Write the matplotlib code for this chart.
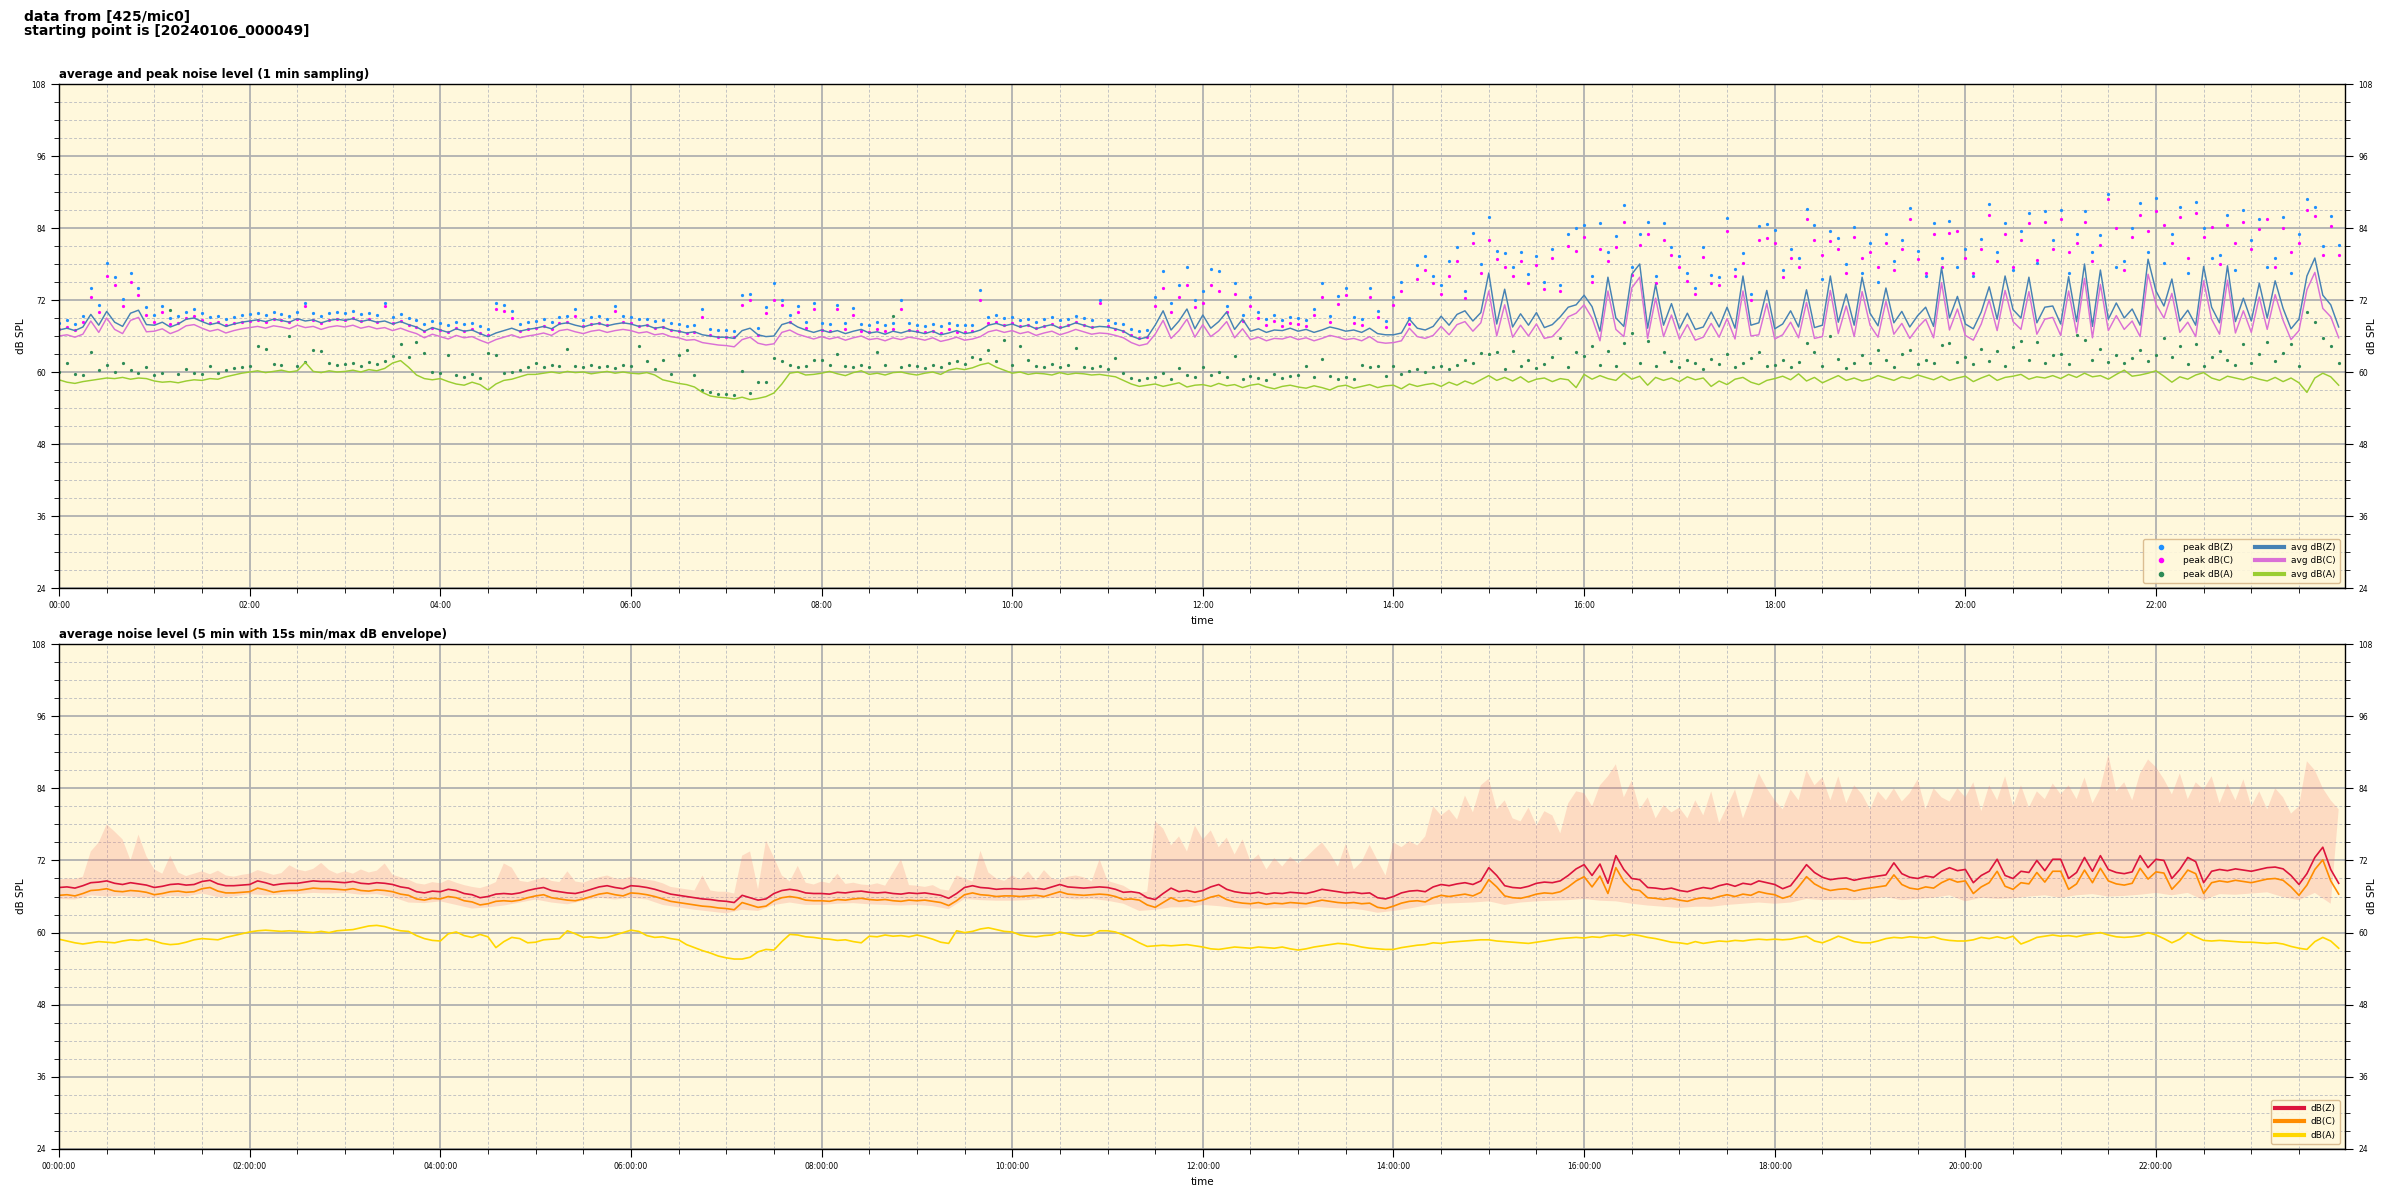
import numpy as np
import matplotlib
matplotlib.use("Agg")
import matplotlib.pyplot as plt
from matplotlib.ticker import MultipleLocator, FuncFormatter

# ---------------- data (5-minute samples) ----------------
avg_z = [
    67.0, 67.3, 66.9, 67.5, 69.6, 67.8, 70.1, 68.3, 67.6, 69.8, 70.3, 67.9,
    67.8, 68.3, 67.5, 68.0, 68.8, 69.0, 68.4, 67.9, 68.2, 67.6, 68.0, 68.3,
    68.5, 68.7, 68.4, 68.8, 68.6, 68.3, 68.9, 68.5, 68.7, 68.2, 68.6, 68.8,
    68.6, 68.9, 68.4, 68.7, 68.3, 68.5, 68.0, 68.4, 67.9, 67.5, 66.8, 67.4,
    67.0, 66.6, 67.2, 66.8, 67.0, 66.4, 65.9, 66.5, 66.9, 67.3, 66.8, 67.1,
    67.3, 67.6, 67.2, 68.0, 68.2, 67.8, 67.5, 67.9, 68.1, 67.7, 68.0, 68.2,
    68.0, 67.6, 67.8, 67.3, 67.5, 67.0, 66.8, 66.5, 66.7, 66.2, 66.0, 65.8,
    65.8, 65.6, 66.9, 67.3, 66.2, 65.9, 66.0, 67.9, 68.3, 67.5, 67.0, 66.6,
    67.0, 66.6, 66.9, 66.4, 66.8, 67.1, 66.5, 66.7, 66.3, 66.8, 66.5, 66.9,
    66.7, 66.4, 66.8, 66.2, 66.5, 66.9, 66.4, 66.6, 67.0, 67.8, 68.1, 67.7,
    68.0, 67.5, 67.8, 67.2, 67.6, 67.9, 67.3, 67.7, 68.2, 67.8, 67.4, 67.6,
    67.5, 67.2, 66.8, 66.0, 65.5, 65.8, 67.8, 70.2, 67.0, 68.5, 70.5, 67.2,
    69.5, 67.3, 68.4, 70.0, 67.1, 68.8, 66.8, 67.2, 66.6, 67.0, 66.9, 67.3,
    66.8, 67.1, 66.6, 67.0, 67.5, 67.2, 66.8, 67.0, 66.6, 67.3, 66.4, 66.2,
    66.2, 66.5, 68.8, 67.3, 67.0, 67.6, 69.3, 67.8, 69.6, 70.2, 68.5, 69.9,
    76.5, 68.0, 73.8, 67.5, 69.7, 67.8, 69.9, 67.4, 67.9, 69.2, 70.8, 71.2,
    72.8, 70.9, 66.8, 75.8, 69.0, 67.6, 76.3, 78.0, 67.3, 74.6, 67.8, 71.4,
    67.2, 69.8, 67.1, 67.5, 70.0, 67.5, 70.8, 67.3, 76.0, 67.8, 68.2, 73.6,
    67.2, 68.0, 70.2, 67.5, 73.7, 67.4, 67.8, 76.0, 68.3, 73.0, 67.8, 75.8,
    69.8, 67.7, 74.0, 68.2, 70.1, 67.5, 69.4, 70.8, 67.6, 77.4, 69.0, 72.6,
    68.0, 67.2, 70.0, 74.2, 68.8, 76.0, 70.4, 69.0, 75.8, 68.2, 70.8, 71.0,
    68.0, 75.9, 68.4, 78.0, 67.6, 77.0, 68.8, 71.5, 69.0, 70.5, 67.8, 78.8,
    73.5, 71.0, 75.5, 68.5, 70.3, 67.8, 77.6, 70.8, 68.2, 77.7, 68.4, 72.3,
    68.5, 74.8, 69.0, 75.2, 70.6, 67.2, 68.8, 76.0, 79.0, 72.8, 71.2, 67.5,
]
avg_c = [
    66.0, 66.2, 65.8, 66.3, 68.5, 66.6, 69.0, 67.1, 66.4, 68.6, 69.1, 66.7,
    66.8, 67.2, 66.4, 66.9, 67.7, 67.9, 67.3, 66.8, 67.1, 66.5, 66.9, 67.2,
    67.4, 67.6, 67.3, 67.7, 67.5, 67.2, 67.8, 67.4, 67.6, 67.1, 67.5, 67.7,
    67.5, 67.8, 67.3, 67.6, 67.2, 67.4, 66.9, 67.3, 66.8, 66.4, 65.7, 66.3,
    65.9, 65.5, 66.1, 65.7, 65.9, 65.3, 64.8, 65.4, 65.8, 66.2, 65.7, 66.0,
    66.2, 66.5, 66.1, 66.9, 67.1, 66.7, 66.4, 66.8, 67.0, 66.6, 66.9, 67.1,
    66.9, 66.5, 66.7, 66.2, 66.4, 65.9, 65.7, 65.3, 65.4, 64.9, 64.7, 64.5,
    64.4, 64.2, 65.4, 65.8, 64.8, 64.5, 64.7, 66.6, 67.0, 66.3, 65.9, 65.5,
    65.9, 65.5, 65.8, 65.3, 65.7, 66.0, 65.4, 65.6, 65.2, 65.7, 65.4, 65.8,
    65.6, 65.3, 65.7, 65.1, 65.4, 65.8, 65.3, 65.5, 65.9, 66.7, 67.0, 66.6,
    66.9, 66.4, 66.7, 66.1, 66.5, 66.8, 66.2, 66.6, 67.1, 66.7, 66.3, 66.5,
    66.4, 66.1, 65.7, 64.9, 64.4, 64.7, 66.3, 68.6, 65.6, 66.9, 68.8, 65.8,
    67.9, 65.9, 66.9, 68.4, 65.7, 67.2, 65.4, 65.8, 65.2, 65.6, 65.5, 65.9,
    65.4, 65.7, 65.2, 65.6, 66.1, 65.8, 65.4, 65.6, 65.2, 65.9, 65.0, 64.8,
    64.9, 65.2, 67.3, 65.9, 65.6, 66.1, 67.6, 66.2, 67.9, 68.4, 66.8, 68.2,
    73.5, 66.0, 71.2, 65.8, 67.8, 66.0, 68.0, 65.6, 65.9, 67.3, 69.2, 69.8,
    71.2, 69.0, 65.2, 73.5, 67.1, 65.9, 74.0, 75.8, 65.6, 72.3, 65.9, 69.5,
    65.5, 67.9, 65.3, 65.8, 68.1, 65.8, 68.9, 65.5, 73.5, 66.0, 66.2, 71.4,
    65.5, 66.2, 68.3, 65.7, 71.6, 65.6, 65.9, 73.6, 66.4, 71.0, 65.9, 73.4,
    67.8, 65.8, 71.8, 66.3, 68.1, 65.6, 67.4, 68.8, 65.7, 74.9, 67.0, 70.5,
    66.1, 65.3, 68.0, 72.0, 66.9, 73.6, 68.4, 67.1, 73.4, 66.3, 68.8, 69.1,
    66.1, 73.5, 66.5, 75.6, 65.7, 74.6, 66.9, 69.4, 67.1, 68.5, 65.9, 76.3,
    71.3, 69.0, 73.1, 66.6, 68.3, 65.9, 75.2, 68.8, 66.3, 75.3, 66.5, 70.2,
    66.6, 72.5, 67.1, 72.9, 68.6, 65.4, 66.9, 73.7, 76.6, 70.6, 69.2, 65.7,
]
avg_a = [
    58.7, 58.3, 58.1, 58.4, 58.6, 58.8, 59.0, 58.9, 59.1, 58.8, 59.0, 58.9,
    58.5, 58.3, 58.4, 58.2, 58.5, 58.7, 58.6, 58.9, 58.8, 59.2, 59.5, 59.8,
    60.0, 60.2, 59.9, 60.1, 60.3, 60.0, 60.2, 61.6, 60.1, 59.9, 60.2, 60.0,
    60.1, 60.3, 60.0, 60.4, 60.2, 60.6, 61.5, 61.9, 60.8, 59.5, 58.9, 58.7,
    58.9, 58.4, 58.0, 57.8, 58.3, 57.9, 57.0, 58.0, 58.6, 58.8, 59.2, 59.6,
    59.6, 59.8, 60.0, 59.8, 60.1, 59.9, 60.0, 59.7, 59.9, 60.1, 59.8, 60.0,
    59.8, 59.7, 59.9, 59.5, 58.7, 58.4, 58.1, 57.9, 57.5, 56.6, 56.0, 55.8,
    55.7, 55.5, 55.8, 55.4, 55.6, 55.9, 56.5, 58.0, 59.8, 60.0, 59.5, 59.6,
    59.8, 60.1, 59.7, 59.4, 59.9, 60.2, 59.6, 59.8, 59.5, 59.9, 60.0, 59.7,
    59.5, 59.8, 60.0, 59.6, 60.3, 60.6, 60.4, 60.7, 61.2, 61.5, 60.8, 60.3,
    59.8, 60.0, 59.6, 59.8, 59.7, 59.5, 59.9, 59.6, 59.8, 59.7, 59.5, 59.6,
    59.4, 59.2, 58.6, 58.0, 57.6, 57.8, 58.0, 57.6, 57.9, 58.2, 57.5, 57.8,
    57.9, 57.6, 58.1, 57.7, 57.9, 57.4, 57.8, 58.0, 57.5, 57.2, 57.6, 57.8,
    57.5, 57.3, 57.7, 57.4, 57.0, 57.6, 57.8, 57.3, 57.6, 57.9, 57.4, 57.7,
    57.8, 57.2, 58.0, 57.6, 57.9, 58.1, 57.6, 58.3, 57.8, 58.5, 58.0, 58.7,
    59.4, 58.6, 59.1, 58.5, 59.2, 58.3, 58.8, 59.0, 58.4, 58.9, 58.7, 57.4,
    59.6, 58.8, 59.4, 58.9, 58.6, 59.8, 58.8, 59.3, 57.8, 59.1, 58.6, 59.0,
    58.4, 59.2, 58.7, 59.0, 57.6, 58.5, 57.9, 58.8, 59.1, 58.3, 57.9, 58.6,
    58.9, 59.3, 58.7, 59.7, 58.5, 59.1, 58.2, 58.8, 59.4, 58.6, 59.0, 58.5,
    58.8, 59.4, 59.0, 58.6, 59.2, 58.9, 59.5, 59.1, 58.7, 59.3, 58.6, 59.0,
    59.3, 58.4, 59.0, 59.5, 58.6, 59.1, 59.3, 59.6, 58.8, 59.2, 59.0, 59.4,
    58.9, 59.6, 59.1, 59.8, 59.2, 59.4, 58.8, 59.6, 60.3, 59.3, 59.5, 59.8,
    60.2, 59.3, 58.3, 59.2, 58.8, 59.5, 59.9, 59.0, 58.6, 59.3, 59.0, 58.7,
    59.2, 58.8, 58.5, 59.1, 58.4, 59.0, 58.2, 56.6, 59.0, 59.8, 59.2, 57.8,
]
peak_z = [
    68.2, 68.6, 68.0, 69.4, 74.0, 71.2, 78.2, 75.8, 72.1, 76.5, 74.0, 70.8,
    69.5, 71.0, 69.0, 69.3, 70.0, 70.5, 69.8, 69.2, 69.4, 68.9, 69.2, 69.5,
    69.6, 69.8, 69.5, 70.0, 69.7, 69.4, 70.0, 71.5, 69.8, 69.3, 69.8, 70.0,
    69.8, 70.1, 69.6, 69.9, 69.5, 71.5, 69.2, 69.6, 69.0, 68.6, 68.0, 68.5,
    68.1, 67.8, 68.4, 68.0, 68.2, 67.6, 67.2, 71.5, 71.2, 70.2, 68.0, 68.3,
    68.5, 68.8, 68.3, 69.2, 69.4, 70.5, 68.7, 69.1, 69.3, 68.9, 71.0, 69.4,
    69.2, 68.8, 68.9, 68.5, 68.6, 68.1, 68.0, 67.6, 67.8, 70.5, 67.2, 67.0,
    67.0, 66.9, 72.9, 73.0, 67.3, 70.8, 74.8, 72.0, 69.5, 71.0, 68.4, 71.5,
    68.1, 68.0, 71.2, 68.2, 70.6, 68.0, 67.8, 68.3, 67.9, 68.2, 72.0, 68.1,
    67.9, 67.7, 68.0, 67.6, 68.2, 67.8, 67.8, 67.9, 73.7, 69.2, 69.5, 69.0,
    69.2, 68.7, 68.9, 68.4, 68.8, 69.1, 68.6, 68.9, 69.4, 69.0, 68.6, 72.0,
    68.7, 68.2, 68.0, 67.2, 66.8, 67.0, 72.5, 76.8, 71.5, 74.5, 77.5, 72.0,
    73.5, 77.2, 76.8, 71.0, 74.8, 69.5, 72.5, 70.0, 68.8, 69.5, 68.7, 69.2,
    69.0, 68.6, 70.5, 74.8, 69.4, 72.7, 74.0, 69.1, 68.8, 74.0, 70.2, 68.5,
    72.5, 75.0, 69.0, 77.8, 79.3, 76.0, 74.5, 78.5, 80.8, 73.5, 83.2, 78.0,
    85.8, 80.2, 79.8, 77.5, 80.0, 76.3, 79.3, 75.0, 80.5, 74.5, 83.0, 84.0,
    84.5, 76.0, 84.8, 80.0, 82.6, 87.9, 77.5, 83.0, 85.0, 76.0, 84.8, 80.9,
    79.3, 76.5, 74.0, 80.9, 76.2, 75.8, 85.6, 77.2, 79.8, 73.0, 84.3, 84.6,
    83.6, 77.0, 80.5, 79.0, 87.2, 84.5, 75.5, 83.5, 82.3, 78.0, 84.2, 76.5,
    81.5, 75.0, 83.0, 78.5, 82.0, 87.3, 80.2, 76.0, 84.8, 79.0, 85.1, 77.5,
    80.5, 76.0, 82.2, 88.0, 80.0, 84.8, 77.0, 83.5, 86.5, 78.2, 86.8, 82.0,
    87.0, 76.5, 83.0, 86.8, 80.0, 82.8, 89.7, 77.5, 78.5, 84.0, 88.2, 80.0,
    89.0, 78.2, 83.0, 87.5, 76.5, 88.3, 84.0, 79.0, 79.5, 86.2, 77.0, 87.0,
    82.0, 85.5, 77.5, 79.0, 85.8, 76.5, 83.0, 88.9, 87.5, 81.0, 86.0, 81.2,
]
peak_c = [
    67.2, 67.5, 67.0, 68.3, 72.5, 70.0, 76.0, 74.5, 71.0, 75.0, 72.8, 69.5,
    68.4, 70.0, 68.0, 68.2, 69.0, 69.4, 68.7, 68.1, 68.3, 67.8, 68.1, 68.4,
    68.5, 68.7, 68.4, 68.9, 68.6, 68.3, 68.9, 71.0, 68.7, 68.2, 68.7, 68.9,
    68.7, 69.0, 68.5, 68.8, 68.4, 71.0, 68.1, 68.5, 67.9, 67.5, 66.9, 67.4,
    67.0, 66.7, 67.3, 66.9, 67.1, 66.5, 66.1, 70.5, 70.2, 69.0, 66.9, 67.2,
    67.4, 67.7, 67.2, 68.1, 68.3, 69.4, 67.6, 68.0, 68.2, 67.8, 70.2, 68.3,
    68.1, 67.7, 67.8, 67.4, 67.5, 67.0, 66.9, 66.5, 66.7, 69.2, 66.1, 65.9,
    65.9, 65.8, 71.2, 72.0, 66.2, 69.8, 72.0, 71.2, 68.4, 70.0, 67.3, 70.5,
    67.0, 66.9, 70.5, 67.1, 69.5, 66.9, 66.7, 67.2, 66.8, 67.1, 70.5, 67.0,
    66.8, 66.6, 66.9, 66.5, 67.1, 66.7, 66.7, 66.8, 72.0, 68.1, 68.4, 67.9,
    68.1, 67.6, 67.8, 67.3, 67.7, 68.0, 67.5, 67.8, 68.3, 67.9, 67.5, 71.5,
    67.6, 67.1, 66.9, 66.1, 65.7, 65.9, 71.0, 74.0, 70.0, 72.5, 74.5, 70.8,
    71.5, 74.5, 73.5, 70.0, 73.0, 68.5, 71.0, 69.0, 67.8, 68.5, 67.7, 68.2,
    68.0, 67.6, 69.5, 72.5, 68.4, 71.3, 72.8, 68.1, 67.8, 72.5, 69.2, 67.5,
    71.2, 73.5, 68.0, 75.5, 77.0, 74.8, 73.0, 76.0, 78.5, 72.3, 81.5, 76.5,
    82.0, 78.8, 77.5, 76.0, 78.5, 74.8, 77.8, 73.8, 79.0, 73.5, 81.0, 80.2,
    82.5, 75.0, 80.5, 78.5, 80.8, 85.0, 76.2, 81.2, 83.0, 74.8, 82.0, 79.5,
    77.5, 75.2, 73.0, 79.2, 74.8, 74.5, 83.5, 76.0, 78.2, 72.0, 82.0, 82.3,
    81.5, 75.8, 79.0, 77.5, 85.5, 82.0, 79.5, 81.8, 80.5, 76.5, 82.5, 79.0,
    80.0, 77.5, 81.5, 77.0, 80.5, 85.5, 78.8, 76.5, 83.0, 77.5, 83.2, 83.5,
    79.0, 76.5, 80.5, 86.2, 78.5, 83.0, 77.5, 82.0, 84.8, 78.7, 85.0, 80.5,
    85.5, 80.0, 81.5, 85.0, 78.5, 81.2, 88.8, 84.0, 77.0, 82.5, 86.2, 83.5,
    86.8, 84.5, 81.5, 85.8, 79.0, 86.5, 82.5, 84.2, 78.0, 84.5, 81.5, 85.0,
    80.5, 83.8, 85.5, 77.5, 84.0, 80.0, 81.5, 87.0, 86.0, 79.5, 84.3, 79.5,
]
peak_a = [
    60.0, 61.5, 59.6, 59.5, 63.3, 60.3, 61.2, 60.0, 61.5, 60.4, 59.9, 60.8,
    59.5, 59.9, 70.4, 59.6, 60.5, 59.8, 59.6, 61.0, 59.9, 60.3, 60.6, 60.9,
    61.0, 64.3, 63.8, 61.4, 61.2, 66.0, 61.0, 61.6, 63.7, 63.5, 61.5, 61.1,
    61.3, 61.5, 61.0, 61.6, 61.4, 61.8, 62.6, 64.6, 62.5, 65.0, 63.2, 60.0,
    59.8, 62.8, 59.5, 59.2, 59.6, 59.0, 63.2, 62.9, 59.8, 60.0, 60.3, 60.8,
    61.5, 60.8, 61.2, 61.0, 63.8, 61.0, 60.9, 61.2, 60.8, 61.0, 60.7, 61.1,
    61.0, 64.4, 61.8, 60.5, 62.0, 59.6, 62.9, 63.6, 59.5, 57.0, 56.6, 56.3,
    56.4, 56.2, 60.2, 56.5, 58.4, 58.3, 62.3, 61.8, 61.2, 60.8, 61.0, 62.0,
    62.0, 61.2, 63.0, 61.0, 60.8, 61.2, 60.9, 63.4, 61.1, 69.4, 60.8, 61.2,
    61.0, 60.6, 61.2, 60.8, 61.5, 61.8, 61.4, 62.5, 62.2, 63.7, 61.9, 65.3,
    61.2, 64.3, 62.0, 61.0, 60.8, 61.3, 60.9, 61.1, 64.0, 60.8, 60.7, 61.0,
    60.5, 62.3, 59.8, 59.0, 58.6, 59.0, 59.2, 59.8, 58.8, 60.6, 59.5, 59.2,
    60.8, 59.5, 60.0, 59.2, 62.6, 58.9, 59.3, 59.0, 58.7, 59.6, 59.0, 59.3,
    59.5, 61.0, 59.2, 62.2, 59.3, 58.8, 59.2, 58.9, 61.2, 60.8, 61.0, 59.4,
    61.0, 59.6, 60.2, 60.5, 60.0, 60.8, 61.0, 60.5, 61.2, 62.0, 61.5, 63.2,
    63.0, 63.4, 60.5, 63.5, 61.0, 62.0, 60.6, 61.3, 62.5, 65.7, 60.8, 63.3,
    62.6, 64.3, 61.2, 63.5, 61.0, 64.8, 66.5, 61.5, 65.1, 61.0, 63.4, 61.8,
    60.8, 62.0, 61.5, 60.5, 62.2, 61.3, 63.0, 60.9, 61.5, 62.4, 63.4, 61.0,
    61.2, 62.0, 60.8, 61.6, 64.8, 63.4, 61.0, 66.0, 62.2, 60.6, 61.5, 62.8,
    61.5, 63.6, 62.0, 60.8, 63.0, 63.7, 61.3, 62.0, 61.5, 64.5, 64.8, 61.6,
    62.5, 61.4, 63.8, 61.8, 63.5, 61.0, 64.2, 65.1, 62.0, 65.0, 61.5, 62.8,
    63.0, 61.4, 66.2, 65.3, 62.0, 63.9, 61.7, 62.8, 61.5, 62.4, 63.6, 61.8,
    62.8, 65.7, 62.5, 64.3, 61.3, 64.6, 61.0, 62.5, 63.5, 62.0, 61.2, 64.6,
    61.5, 63.0, 65.0, 61.8, 63.2, 64.6, 61.0, 70.0, 68.4, 65.7, 64.3, 61.5,
]

# bottom panel: 5-min averages and envelope
lvl_z = [
    67.5, 67.6, 67.4, 67.8, 68.3, 68.4, 68.6, 68.2, 68.0, 68.3, 68.1, 67.9,
    67.5, 67.7, 68.0, 68.1, 67.9, 68.0, 68.5, 68.7, 68.1, 67.8, 67.8, 67.9,
    68.0, 68.6, 68.3, 67.9, 68.1, 68.2, 68.2, 68.4, 68.6, 68.5, 68.5, 68.4,
    68.3, 68.5, 68.2, 68.1, 68.3, 68.2, 68.0, 67.6, 67.4, 66.8, 66.6, 66.9,
    66.8, 67.2, 67.0, 66.5, 66.3, 65.8, 66.0, 66.4, 66.5, 66.4, 66.6, 67.0,
    67.3, 67.5, 67.0, 66.8, 66.6, 66.5, 66.8, 67.2, 67.6, 67.8, 67.5, 67.3,
    67.8, 67.7, 67.5, 67.2, 66.8, 66.4, 66.2, 66.0, 65.8, 65.6, 65.5, 65.3,
    65.2, 65.0, 66.2, 65.8, 65.4, 65.6, 66.5, 67.0, 67.2, 67.0, 66.6, 66.5,
    66.5, 66.4, 66.7, 66.6, 66.8, 66.9, 66.7, 66.6, 66.7, 66.5, 66.4, 66.6,
    66.5, 66.6, 66.4, 66.2, 65.7, 66.5, 67.5, 67.8, 67.5, 67.4, 67.2, 67.3,
    67.3, 67.2, 67.3, 67.4, 67.2, 67.6, 68.0, 67.6, 67.5, 67.4, 67.5, 67.6,
    67.5, 67.2, 66.7, 66.8, 66.6, 65.8, 65.5, 66.5, 67.4, 66.8, 67.0, 66.7,
    67.0, 67.6, 68.0, 67.2, 66.8, 66.6, 66.5, 66.7, 66.4, 66.6, 66.5, 66.7,
    66.6, 66.5, 66.8, 67.2, 67.0, 66.8, 66.6, 66.7, 66.5, 66.6, 65.8, 65.6,
    66.0, 66.6, 66.9, 67.0, 66.8, 67.6, 68.0, 67.8, 68.1, 68.3, 68.0, 68.6,
    70.8, 69.5, 67.8, 67.5, 67.4, 67.7, 68.2, 68.4, 68.3, 68.6, 69.5, 70.6,
    71.3, 69.5, 71.4, 68.2, 72.8, 70.5, 69.0, 68.8, 67.5, 67.4, 67.2, 67.4,
    67.0, 66.8, 67.2, 67.5, 67.3, 67.8, 68.1, 67.7, 68.2, 68.0, 68.6, 68.3,
    68.0, 67.3, 67.8, 69.5, 71.3, 70.0, 69.2, 68.8, 69.0, 69.1, 68.7, 69.0,
    69.2, 69.4, 69.6, 71.6, 69.8, 69.2, 69.0, 69.4, 69.2, 70.2, 70.8, 70.3,
    70.5, 68.3, 69.5, 70.2, 72.2, 69.5, 69.0, 70.2, 70.0, 72.0, 70.3, 72.2,
    72.2, 69.0, 70.0, 72.5, 70.2, 72.8, 70.5, 70.0, 69.8, 70.1, 72.8, 70.8,
    72.2, 72.0, 69.0, 70.5, 72.5, 71.8, 68.3, 70.2, 70.5, 70.3, 70.6, 70.4,
    70.2, 70.5, 70.8, 70.9, 70.6, 69.5, 68.0, 69.8, 72.5, 74.2, 70.5, 68.2,
]
lvl_c = [
    66.2, 66.3, 66.1, 66.5, 67.0, 67.1, 67.3, 66.9, 66.8, 67.0, 66.9, 66.7,
    66.3, 66.5, 66.8, 66.9, 66.7, 66.8, 67.3, 67.5, 66.9, 66.6, 66.6, 66.7,
    66.8, 67.4, 67.1, 66.7, 66.9, 67.0, 67.0, 67.2, 67.4, 67.3, 67.3, 67.2,
    67.1, 67.3, 67.0, 66.9, 67.1, 67.0, 66.8, 66.4, 66.2, 65.6, 65.4, 65.7,
    65.6, 66.0, 65.8, 65.3, 65.1, 64.6, 64.8, 65.2, 65.3, 65.2, 65.4, 65.8,
    66.1, 66.3, 65.8, 65.6, 65.4, 65.3, 65.6, 66.0, 66.4, 66.6, 66.3, 66.1,
    66.6, 66.5, 66.3, 66.0, 65.6, 65.2, 65.0, 64.8, 64.6, 64.4, 64.3, 64.1,
    64.0, 63.8, 65.0, 64.6, 64.2, 64.4, 65.3, 65.8, 66.0, 65.8, 65.4, 65.3,
    65.3, 65.2, 65.5, 65.4, 65.6, 65.7, 65.5, 65.4, 65.5, 65.3, 65.2, 65.4,
    65.3, 65.4, 65.2, 65.0, 64.5, 65.3, 66.3, 66.6, 66.3, 66.2, 66.0, 66.1,
    66.1, 66.0, 66.1, 66.2, 66.0, 66.4, 66.8, 66.4, 66.3, 66.2, 66.3, 66.4,
    66.3, 66.0, 65.5, 65.6, 65.4, 64.6, 64.2, 65.0, 65.8, 65.2, 65.4, 65.1,
    65.4, 65.9, 66.2, 65.5, 65.1, 64.9, 64.8, 65.0, 64.7, 64.9, 64.8, 65.0,
    64.9, 64.8, 65.1, 65.4, 65.2, 65.0, 64.9, 65.0, 64.8, 64.9, 64.2, 64.0,
    64.4, 64.9, 65.2, 65.3, 65.1, 65.8, 66.2, 66.0, 66.2, 66.4, 66.1, 66.7,
    68.8, 67.6, 66.1, 65.8, 65.7, 66.0, 66.4, 66.6, 66.5, 66.8, 67.6, 68.6,
    69.3, 67.6, 69.4, 66.5, 70.8, 68.5, 67.2, 67.0, 65.8, 65.7, 65.5, 65.7,
    65.4, 65.2, 65.6, 65.8, 65.6, 66.0, 66.3, 66.0, 66.4, 66.2, 66.8, 66.5,
    66.3, 65.7, 66.1, 67.6, 69.3, 68.1, 67.4, 67.0, 67.2, 67.3, 66.9, 67.2,
    67.4, 67.6, 67.8, 69.6, 68.0, 67.4, 67.2, 67.6, 67.4, 68.3, 68.9, 68.4,
    68.6, 66.5, 67.6, 68.3, 70.2, 67.7, 67.2, 68.3, 68.1, 70.0, 68.4, 70.2,
    70.2, 67.2, 68.1, 70.4, 68.3, 70.7, 68.6, 68.1, 67.9, 68.2, 70.7, 68.9,
    70.1, 69.9, 67.2, 68.6, 70.4, 69.8, 66.5, 68.3, 68.6, 68.4, 68.7, 68.5,
    68.3, 68.6, 68.9, 69.0, 68.7, 67.6, 66.2, 67.9, 70.5, 72.1, 68.6, 66.4,
]
lvl_a = [
    58.9, 58.6, 58.3, 58.1, 58.3, 58.5, 58.4, 58.3, 58.6, 58.8, 58.7, 58.9,
    58.6, 58.2, 58.0, 58.1, 58.4, 58.8, 59.0, 58.9, 58.8, 59.2, 59.5, 59.8,
    60.1, 60.3, 60.4, 60.3, 60.2, 60.3, 60.2, 60.1, 60.0, 60.2, 60.0, 60.3,
    60.4, 60.5, 60.8, 61.1, 61.2, 61.0, 60.6, 60.3, 60.2, 59.5, 59.0, 58.7,
    58.6, 59.8, 60.1, 59.5, 59.2, 59.7, 59.3, 57.5, 58.5, 59.2, 59.0, 58.3,
    58.4, 58.8, 58.9, 59.0, 60.3, 59.8, 59.2, 59.3, 59.1, 59.2, 59.6, 60.0,
    60.4, 60.2, 59.5, 59.2, 59.3, 59.0, 58.8, 58.0, 57.5, 57.0, 56.6, 56.1,
    55.8, 55.6, 55.6, 55.9, 56.8, 57.2, 57.1, 58.5, 59.7, 59.6, 59.3, 59.2,
    59.0, 58.9, 58.7, 58.8, 58.5, 58.3, 59.4, 59.3, 59.6, 59.4, 59.5, 59.3,
    59.6, 59.3, 58.9, 58.4, 58.2, 60.3, 60.0, 60.2, 60.6, 60.8, 60.5, 60.2,
    60.1, 59.6, 59.4, 59.3, 59.5, 59.6, 60.1, 59.8, 59.5, 59.4, 59.6, 60.3,
    60.3, 60.1, 59.6, 59.0, 58.3, 57.7, 57.8, 57.9, 57.8, 57.9, 58.0, 57.8,
    57.6, 57.3, 57.2, 57.4, 57.6, 57.5, 57.4, 57.6, 57.5, 57.4, 57.6, 57.3,
    57.1, 57.3, 57.6, 57.8, 58.0, 58.2, 58.1, 57.9, 57.6, 57.4, 57.3, 57.2,
    57.2, 57.5, 57.7, 57.9, 58.0, 58.3, 58.2, 58.4, 58.5, 58.6, 58.7, 58.8,
    58.8, 58.6, 58.5, 58.4, 58.3, 58.2, 58.4, 58.6, 58.8, 59.0, 59.1, 59.2,
    59.1, 59.3, 59.2, 59.5, 59.6, 59.4, 59.7, 59.5, 59.2, 59.0, 58.7, 58.4,
    58.3, 58.1, 58.5, 58.2, 58.4, 58.6, 58.5, 58.7, 58.6, 58.8, 58.9, 58.8,
    58.9, 58.8, 58.9, 59.2, 59.4, 58.6, 58.3, 58.8, 59.4, 59.0, 58.5, 58.3,
    58.3, 58.6, 59.0, 59.2, 59.1, 59.3, 59.2, 59.1, 59.3, 58.9, 58.7, 58.6,
    58.6, 58.8, 59.2, 59.0, 59.3, 59.0, 59.4, 58.1, 58.6, 59.2, 59.4, 59.6,
    59.4, 59.5, 59.3, 59.6, 59.8, 60.0, 59.6, 59.3, 59.2, 59.3, 59.5, 60.0,
    59.6, 59.0, 58.3, 58.9, 60.0, 59.3, 58.7, 58.6, 58.7, 58.6, 58.5, 58.4,
    58.4, 58.3, 58.2, 58.3, 58.1, 57.7, 57.4, 57.2, 58.5, 59.2, 58.6, 57.4,
]
env_max = [
    68.8, 69.0, 68.9, 69.3, 73.5, 75.0, 78.0, 76.8, 75.5, 72.0, 76.3, 72.7,
    70.5, 69.8, 72.8, 70.0, 69.4, 69.8, 70.2, 69.7, 70.3, 69.5, 69.3, 69.6,
    69.8, 70.4, 70.0, 69.6, 69.9, 71.2, 70.5, 70.2, 70.6, 71.6, 70.4, 69.8,
    70.2, 69.8, 70.5, 70.0, 70.3, 71.5, 69.6, 69.2, 68.8, 68.2, 68.0, 68.4,
    68.2, 68.8, 68.3, 67.9, 67.6, 67.4, 67.8, 68.4, 71.5, 70.8, 68.6, 68.4,
    68.8, 69.2, 68.6, 68.4, 70.2, 68.5, 68.3, 68.8, 69.2, 69.5, 69.0, 68.9,
    69.3, 69.0, 68.8, 68.6, 68.2, 67.6, 67.4, 67.2, 67.0, 69.5, 67.0, 66.8,
    66.8, 66.5, 72.8, 73.5, 67.2, 75.3, 72.5, 69.5, 68.5, 71.1, 68.3, 68.0,
    68.5, 68.2, 69.8, 68.1, 68.3, 68.0, 67.9, 68.2, 67.8, 70.0, 72.2, 67.9,
    67.8, 67.6, 67.9, 67.2, 67.0, 69.5, 69.0, 68.5, 73.6, 70.0, 69.0, 68.6,
    69.5, 68.8, 70.2, 68.6, 70.4, 69.0, 68.8, 69.3, 69.5, 69.2, 68.5, 72.2,
    68.6, 68.2, 67.8, 67.0, 66.6, 66.8, 78.5, 77.3, 74.5, 76.0, 73.5, 77.8,
    75.5, 77.0, 74.2, 75.8, 73.0, 75.5, 71.8, 73.0, 70.5, 72.4, 71.0, 72.6,
    71.5, 72.5, 73.8, 75.0, 73.2, 71.0, 74.8, 70.5, 71.8, 74.6, 72.0, 69.5,
    75.0, 74.2, 75.2, 74.5, 76.0, 81.0, 79.5, 80.5, 78.8, 82.8, 80.0, 84.5,
    85.6, 80.5, 82.0, 79.0, 78.5, 80.8, 77.8, 80.2, 79.5, 76.5, 81.5, 83.5,
    83.2, 81.0, 84.5, 86.0, 88.0, 82.5, 85.3, 80.5, 82.5, 79.0, 81.2, 80.0,
    80.8, 79.0, 82.0, 79.5, 83.5, 78.2, 81.0, 83.8, 79.0, 82.5, 86.5, 84.0,
    82.0, 80.5, 83.8, 82.0, 87.0, 84.5, 85.8, 82.0, 86.0, 81.5, 84.5, 83.0,
    80.5, 83.5, 82.0, 84.0, 81.8, 83.2, 85.5, 80.5, 84.0, 82.5, 81.8, 84.0,
    82.5, 85.0, 80.2, 84.5, 82.0, 86.0, 81.0, 84.5, 80.8, 83.5, 82.2, 84.8,
    83.0, 84.5, 82.2, 85.8, 81.5, 84.0, 89.6, 83.5, 85.0, 82.0, 86.5, 88.8,
    87.5, 85.5, 83.0, 86.5, 82.2, 85.0, 83.8, 86.0, 81.5, 84.8, 82.0, 85.5,
    81.0, 83.5, 80.5, 84.0, 82.5, 79.8, 81.0, 88.5, 87.0, 84.0, 82.0, 80.5,
]
env_min = [  # 10-min samples
    65.6, 65.5, 66.2, 66.0, 66.1, 65.9,
    65.8, 66.1, 66.0, 66.5, 65.9, 66.0,
    66.4, 66.2, 66.3, 66.4, 66.6, 66.5,
    66.6, 66.3, 66.4, 65.9, 65.0, 64.9,
    65.2, 64.6, 64.0, 64.2, 64.5, 65.0,
    65.5, 65.0, 64.7, 65.3, 65.8, 65.5,
    65.8, 65.5, 64.6, 64.2, 63.8, 63.5,
    63.2, 63.8, 63.6, 64.6, 65.0, 64.6,
    64.6, 64.8, 64.9, 64.7, 64.6, 64.5,
    64.6, 64.4, 63.9, 65.6, 65.4, 65.3,
    65.3, 65.4, 65.7, 65.8, 65.5, 65.6,
    65.3, 64.8, 63.6, 63.8, 64.2, 64.2,
    64.6, 64.4, 64.1, 64.0, 64.0, 64.1,
    64.0, 64.3, 64.1, 64.0, 63.8, 63.3,
    63.6, 64.0, 64.5, 64.8, 64.9, 65.0,
    65.2, 64.6, 65.0, 65.2, 65.3, 65.4,
    65.6, 65.3, 65.2, 64.8, 64.5, 64.3,
    64.1, 64.3, 64.3, 64.6, 64.8, 65.0,
    64.8, 65.0, 65.6, 65.4, 65.5, 65.4,
    65.6, 65.9, 65.4, 65.6, 65.8, 66.2,
    65.2, 65.8, 65.6, 65.7, 66.0, 66.2,
    65.8, 66.2, 66.4, 66.0, 66.1, 66.3,
    66.6, 66.2, 66.6, 65.4, 66.4, 66.3,
    66.5, 66.7, 65.9, 65.4, 66.6, 64.8,
]

# sample times in minutes after midnight
t5 = np.arange(len(avg_z)) * 5
t10 = np.arange(len(env_min)) * 10

BG = "#fff8dc"

fig = plt.figure(figsize=(24, 12), dpi=100)
fig.text(0.010, 0.992, "data from [425/mic0]\nstarting point is [20240106_000049]",
         fontsize=10, fontweight="bold", va="top", ha="left", linespacing=1.05)

ax1 = fig.add_axes([0.0246, 0.510, 0.9525, 0.420])
ax2 = fig.add_axes([0.0246, 0.0425, 0.9525, 0.4208])


def fmt_hm(x, pos):
    m = int(round(x))
    return f"{m // 60:02d}:{m % 60:02d}"


def fmt_hms(x, pos):
    m = int(round(x))
    return f"{m // 60:02d}:{m % 60:02d}:00"


def style(ax, fmt, title):
    ax.set_facecolor(BG)
    ax.set_xlim(0, 1439)
    ax.set_ylim(24, 108)
    ax.xaxis.set_major_locator(MultipleLocator(120))
    ax.xaxis.set_minor_locator(MultipleLocator(30))
    ax.yaxis.set_major_locator(MultipleLocator(12))
    ax.yaxis.set_minor_locator(MultipleLocator(3))
    ax.xaxis.set_major_formatter(FuncFormatter(fmt))
    ax.grid(which="major", color="#b0b0b0", lw=1.3, ls="-")
    ax.grid(which="minor", color="#c4c4c4", lw=0.7, ls=(0, (3, 2)))
    ax.set_axisbelow(True)
    ax.tick_params(which="both", labelsize=5.5, direction="out",
                   left=True, right=True, labelleft=True, labelright=True)
    ax.tick_params(which="major", length=6, width=0.8)
    ax.tick_params(which="minor", length=3.5, width=0.6)
    ax.set_xlabel("time", fontsize=7.5, labelpad=4)
    ax.set_ylabel("dB SPL", fontsize=7.5, labelpad=4)
    ax.text(1.0098, 0.5, "dB SPL", transform=ax.transAxes, rotation=90,
            fontsize=7.5, va="center", ha="left")
    ax.set_title(title, loc="left", fontsize=8.5, fontweight="bold", pad=4)
    for s in ax.spines.values():
        s.set_linewidth(1.0)


# ---------------- top panel ----------------
style(ax1, fmt_hm, "average and peak noise level (1 min sampling)")
ax1.plot(t5, peak_z, ".", color="#1e90ff", ms=2.6, label="peak dB(Z)")
ax1.plot(t5, peak_c, ".", color="#ff00ff", ms=2.6, label="peak dB(C)")
ax1.plot(t5, peak_a, ".", color="#2e8b57", ms=2.6, label="peak dB(A)")
ax1.plot(t5, avg_z, "-", color="#4682b4", lw=1.05, label="avg dB(Z)")
ax1.plot(t5, avg_c, "-", color="#da70d6", lw=1.05, label="avg dB(C)")
ax1.plot(t5, avg_a, "-", color="#9acd32", lw=1.05, label="avg dB(A)")
leg1 = ax1.legend(loc="lower right", ncol=2, fontsize=6.5, markerscale=2.3,
                  facecolor=BG, edgecolor="#d8b88a", framealpha=0.9,
                  handlelength=3.2, columnspacing=2.5, borderaxespad=0.6)
for h in leg1.get_lines():
    if h.get_linestyle() == "-":
        h.set_linewidth(3)

# ---------------- bottom panel ----------------
style(ax2, fmt_hms, "average noise level (5 min with 15s min/max dB envelope)")
ax2.fill(np.concatenate([t5, t10[::-1]]),
         np.concatenate([env_max, env_min[::-1]]),
         color="#fa8072", alpha=0.24, lw=0)
ax2.plot(t5, lvl_z, "-", color="#dc143c", lw=1.2, label="dB(Z)")
ax2.plot(t5, lvl_c, "-", color="#ff8c00", lw=1.2, label="dB(C)")
ax2.plot(t5, lvl_a, "-", color="#ffd700", lw=1.2, label="dB(A)")
leg2 = ax2.legend(loc="lower right", fontsize=6.5, facecolor=BG,
                  edgecolor="#d8b88a", framealpha=0.9, handlelength=3.2,
                  borderaxespad=0.6)
for h in leg2.get_lines():
    h.set_linewidth(3)

fig.savefig("out.png", dpi=100, facecolor="white")
